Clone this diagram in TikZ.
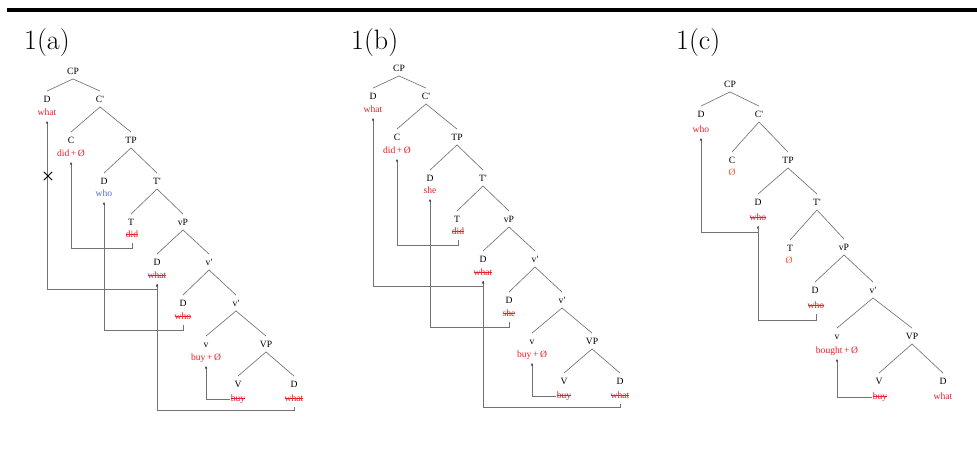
\documentclass[tikz,border=0pt]{standalone}
\usepackage{fontspec}
\newfontfamily\treefont{Liberation Serif}
\usetikzlibrary{arrows.meta,shapes.misc}
\definecolor{tred}{RGB}{232,30,40}
\definecolor{tblue}{RGB}{85,105,215}
\definecolor{torange}{RGB}{240,90,50}
\definecolor{tgray}{RGB}{115,115,115}
\newcommand\stk[1]{\leavevmode\setbox0=\hbox{#1}\rlap{\raisebox{0.28em}{\rule{\wd0}{0.5pt}}}\box0}
\tikzset{
 cat/.style={font=\treefont\fontsize{9.6}{11}\selectfont, text=black, inner xsep=1pt, inner ysep=4.5pt, text height=6.5pt, text depth=0pt},
 word/.style={font=\treefont\fontsize{9.6}{11}\selectfont, text=tred, inner xsep=1pt, inner ysep=3.5pt, text height=6.5pt, text depth=2pt},
 edge/.style={draw=tgray, line width=0.65pt},
 mv/.style={draw=tgray, line width=0.65pt, -{Stealth[length=3pt,width=2.4pt,color=black!80]}},
 panel/.style={font=\fontsize{28}{32}\selectfont, anchor=base west, inner sep=0pt}
}
% tree for panels (a) and (b)
% #1 prefix, #2 TP spec word, #3 vP spec word
\newcommand\treeAB[3]{%
 \node[cat] (#1CP) at (73,71) {CP};
 \node[cat] (#1D1) at (47,99) {D};
 \node[word] (#1w1) at (47,113) {what};
 \node[cat] (#1Cb) at (100,99) {C'};
 \node[cat] (#1C) at (71,140) {C};
 \node[word] (#1w2) at (71,154) {did\,+\,Ø};
 \node[cat] (#1TP) at (131,140) {TP};
 \node[cat] (#1D2) at (104,181) {D};
 \node[word] (#1w3) at (104,194) {#2};
 \node[cat] (#1Tb) at (157,181) {T'};
 \node[cat] (#1T) at (131,222) {T};
 \node[word] (#1w4) at (132,235) {\stk{did}};
 \node[cat] (#1vP) at (183,222) {vP};
 \node[cat] (#1D3) at (157,262) {D};
 \node[word] (#1w5) at (157,276) {\stk{what}};
 \node[cat] (#1vb1) at (209,262) {v'};
 \node[cat] (#1D4) at (183,303) {D};
 \node[word] (#1w6) at (183,317) {\stk{#3}};
 \node[cat] (#1vb2) at (236,303) {v'};
 \node[cat] (#1v) at (206,344) {v};
 \node[word] (#1w7) at (206,358) {buy\,+\,Ø};
 \node[cat] (#1VP) at (266,344) {VP};
 \node[cat] (#1V) at (238,384) {V};
 \node[word] (#1w8) at (238,399) {\stk{buy}};
 \node[cat] (#1D5) at (294,384) {D};
 \node[word] (#1w9) at (294,399) {\stk{what}};
 \foreach \p/\c in {CP/D1,CP/Cb,Cb/C,Cb/TP,TP/D2,TP/Tb,Tb/T,Tb/vP,vP/D3,vP/vb1,vb1/D4,vb1/vb2,vb2/v,vb2/VP,VP/V,VP/D5}
   \draw[edge] (#1\p.south) -- (#1\c.north);
 \draw[mv] (#1w4.south) -- ++(0,5) -| (#1w2.south);
 \draw[mv] (#1w6.south) -- ++(0,5) -| (#1w3.south);
 \draw[mv] (#1w5.south) -- ++(0,5) -| (#1w1.south);
 \draw[mv] (#1w9.south) -- ++(0,3) -| (#1w5.south);
 \draw[mv] (#1w8.west) -| (#1w7.south);
}
\begin{document}
\begin{tikzpicture}[x=1pt,y=-1pt]
\useasboundingbox (0,0) rectangle (977,472);
\fill[black] (7,8) rectangle (977,11.5);
\node[panel] (la) at (24,49) {1(a)};
\node[panel] (lb) at (351,49) {1(b)};
\node[panel] (lc) at (676,49) {1(c)};
% (a)
\treeAB{a}{\textcolor{tblue}{who}}{who}
\node[cross out, draw=black, line width=0.8pt, minimum size=7.5pt, inner sep=0pt] (xa) at (48,176) {};
% (b)
\begin{scope}[shift={(326,-3)}]
\treeAB{b}{she}{she}
\end{scope}
% (c)
\node[cat] (cCP) at (730,84) {CP};
\node[cat] (cD1) at (701,114) {D};
\node[word] (cw1) at (701,130) {who};
\node[cat] (cCb) at (759,114) {C'};
\node[cat] (cC) at (732,160) {C};
\node[word, text=torange] (cw2) at (732,173) {Ø};
\node[cat] (cTP) at (788,160) {TP};
\node[cat] (cD2) at (758,202) {D};
\node[word] (cw3) at (758,218) {\stk{who}};
\node[cat] (cTb) at (817,202) {T'};
\node[cat] (cT) at (790,248) {T};
\node[word, text=torange] (cw4) at (789,261) {Ø};
\node[cat] (cvP) at (844,247) {vP};
\node[cat] (cD3) at (815,290) {D};
\node[word] (cw5) at (816,306) {\stk{who}};
\node[cat] (cvb) at (873,290) {v'};
\node[cat] (cv) at (837,336) {v};
\node[word] (cw6) at (837,351) {bought\,+\,Ø};
\node[cat] (cVP) at (912,336) {VP};
\node[cat] (cV) at (879,381) {V};
\node[word] (cw7) at (880,397) {\stk{buy}};
\node[cat] (cD4) at (943,381) {D};
\node[word] (cw8) at (943,397) {what};
\foreach \p/\c in {CP/D1,CP/Cb,Cb/C,Cb/TP,TP/D2,TP/Tb,Tb/T,Tb/vP,vP/D3,vP/vb,vb/v,vb/VP,VP/V,VP/D4}
  \draw[edge] (c\p.south) -- (c\c.north);
\draw[mv] (cw5.south) -- ++(0,6) -| (cw3.south);
\draw[mv] (cw3.south) -- ++(0,6) -| (cw1.south);
\draw[mv] (cw7.west) -| (cw6.south);
\end{tikzpicture}
\end{document}
